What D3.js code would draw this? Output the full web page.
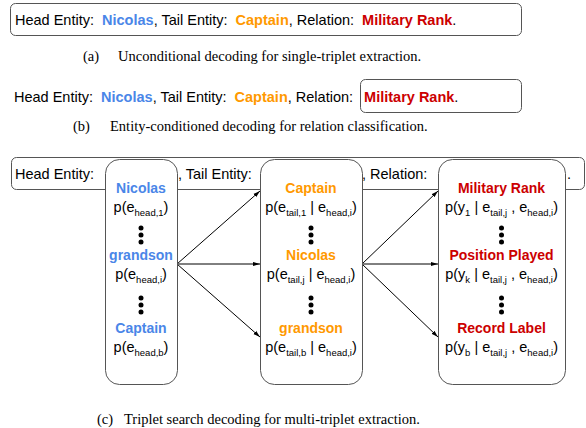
<!DOCTYPE html>
<html>
<head>
<meta charset="utf-8">
<script src="https://cdn.jsdelivr.net/npm/d3@7"></script>
<style>
  body { margin: 0; background: #fff; }
  text { white-space: pre; }
</style>
</head>
<body>
<div id="chart-area"></div>
<script>
// values
var headEntities = ["Nicolas", "grandson", "Captain"];
var headIndex = ["1", "i", "b"];
var tailEntities = ["Captain", "Nicolas", "grandson"];
var tailIndex = ["1", "j", "b"];
var relations = ["Military Rank", "Position Played", "Record Label"];
var relIndex = ["1", "k", "b"];
var sentence = [
    ["Head Entity:  ", "black"], ["Nicolas", "head"], [", Tail Entity:  ", "black"],
    ["Captain", "tail"], [", Relation:  ", "black"], ["Military Rank", "rel"], [".", "black"]
];
var captions = [
    ["(a)", "Unconditional decoding for single-triplet extraction."],
    ["(b)", "Entity-conditioned decoding for relation classification."],
    ["(c)", "Triplet search decoding for multi-triplet extraction."]
];

var width = 586, height = 428;
var colors = {black: "#000", head: "#4a86e8", tail: "#ff9900", rel: "#cc0000"};
var sans = "'Liberation Sans', Arial, sans-serif";
var serif = "'Liberation Serif', 'Times New Roman', serif";
var boxStroke = "#555";
var fs = 14.5;

var svg = d3.select("#chart-area").append("svg")
    .attr("width", width)
    .attr("height", height);

svg.append("defs").append("marker")
    .attr("id", "arrow")
    .attr("viewBox", "0 0 10 10")
    .attr("refX", 10).attr("refY", 5)
    .attr("markerWidth", 7).attr("markerHeight", 7)
    .attr("orient", "auto")
    .append("path")
    .attr("d", "M0,2 L10,5 L0,8 Z")
    .attr("fill", "#000");

function sentenceText(g, x, y, relShift) {
    var t = g.append("text")
        .attr("x", x).attr("y", y)
        .attr("font-family", sans)
        .attr("font-size", fs);
    sentence.forEach(function(s) {
        t.append("tspan")
            .attr("dx", s[1] == "rel" ? relShift : 0)
            .attr("fill", colors[s[1]])
            .attr("font-weight", s[1] == "black" ? "normal" : "bold")
            .text(s[0]);
    });
    return t;
}

function caption(i, x1, x2, y) {
    svg.append("text").attr("x", x1).attr("y", y)
        .attr("font-family", serif).attr("font-size", 14.5)
        .text(captions[i][0]);
    svg.append("text").attr("x", x2).attr("y", y)
        .attr("font-family", serif).attr("font-size", 14.5)
        .text(captions[i][1]);
}

// (a)
svg.append("rect")
    .attr("x", 10.5).attr("y", 3.5).attr("width", 511).attr("height", 32)
    .attr("rx", 5).attr("fill", "none").attr("stroke", boxStroke);
sentenceText(svg, 15, 25, 0);
caption(0, 83, 118, 61);

// (b)
sentenceText(svg, 14, 102, 3);
svg.append("rect")
    .attr("x", 360.5).attr("y", 79.5).attr("width", 161).attr("height", 33)
    .attr("rx", 5).attr("fill", "none").attr("stroke", boxStroke);
caption(1, 73, 110, 131);

// (c)
svg.append("rect")
    .attr("x", 11.5).attr("y", 157.5).attr("width", 573).attr("height", 32)
    .attr("rx", 5).attr("fill", "#fff").attr("stroke", boxStroke);

var colTop = 159, colBottom = 384;
var columns = [
    {name: "head", x0: 105, x1: 177, labels: headEntities},
    {name: "tail", x0: 260, x1: 362, labels: tailEntities},
    {name: "rel", x0: 438, x1: 565, labels: relations}
];

// probability labels built from the index arrays
function probSegs(col, i) {
    if (col == "head") return [["p(e", 0], ["head," + headIndex[i], 1], [")", 0]];
    if (col == "tail") return [["p(e", 0], ["tail," + tailIndex[i], 1], [" | e", 0], ["head,i", 1], [")", 0]];
    return [["p(y", 0], [relIndex[i], 1], [" | e", 0], ["tail,j", 1], [" , e", 0], ["head,i", 1], [")", 0]];
}

var row = d3.scaleOrdinal().domain([0, 1, 2]).range([193, 260, 333]);

var strip = [
    [", Tail Entity:", 178],
    [", Relation:", 362],
    [".", 567]
];
svg.append("text").attr("x", 15).attr("y", 179)
    .attr("font-family", sans).attr("font-size", fs).text("Head Entity:");
strip.forEach(function(s) {
    svg.append("text").attr("x", s[1]).attr("y", 179)
        .attr("font-family", sans).attr("font-size", fs).text(s[0]);
});

// arrows between columns
var targetY = [191, 264, 337];
var links = [];
for (var c = 0; c < 2; c++) {
    targetY.forEach(function(ty) {
        links.push({x1: columns[c].x1, y1: 264, x2: columns[c + 1].x0, y2: ty});
    });
}
svg.selectAll(".link").data(links).enter().append("line")
    .attr("class", "link")
    .attr("x1", function(d) { return d.x1; })
    .attr("y1", function(d) { return d.y1; })
    .attr("x2", function(d) { return d.x2; })
    .attr("y2", function(d) { return d.y2; })
    .attr("stroke", "#000").attr("stroke-width", 1)
    .attr("marker-end", "url(#arrow)");

columns.forEach(function(col) {
    var g = svg.append("g");
    var cx = (col.x0 + col.x1) / 2;
    g.append("rect")
        .attr("x", col.x0 + 0.5).attr("y", colTop + 0.5)
        .attr("width", col.x1 - col.x0).attr("height", colBottom - colTop)
        .attr("rx", 14).attr("fill", "#fff").attr("stroke", boxStroke);

    g.selectAll(".label").data(col.labels).enter().append("text")
        .attr("x", cx)
        .attr("y", function(d, i) { return row(i); })
        .attr("text-anchor", "middle")
        .attr("font-family", sans).attr("font-size", 14)
        .attr("font-weight", "bold")
        .attr("fill", colors[col.name])
        .text(function(d) { return d; });

    col.labels.forEach(function(d, i) {
        var t = g.append("text")
            .attr("x", cx).attr("y", row(i) + 19)
            .attr("text-anchor", "middle")
            .attr("font-family", sans).attr("font-size", 14.5);
        var prev = 0;
        probSegs(col.name, i).forEach(function(s) {
            var dy = s[1] ? (prev ? 0 : 4) : (prev ? -4 : 0);
            t.append("tspan")
                .attr("dy", dy)
                .attr("font-size", s[1] ? 9.5 : 14.5)
                .text(s[0]);
            prev = s[1];
        });
    });

    // vertical dots between rows
    [0, 1].forEach(function(i) {
        var mid = (row(i) + 19 + row(i + 1)) / 2 - 1;
        g.selectAll(null).data([-7, 0, 7]).enter().append("circle")
            .attr("cx", cx)
            .attr("cy", function(o) { return mid + o; })
            .attr("r", 2.5)
            .attr("fill", "#000");
    });
});

caption(2, 97, 124, 424);
</script>
</body>
</html>
